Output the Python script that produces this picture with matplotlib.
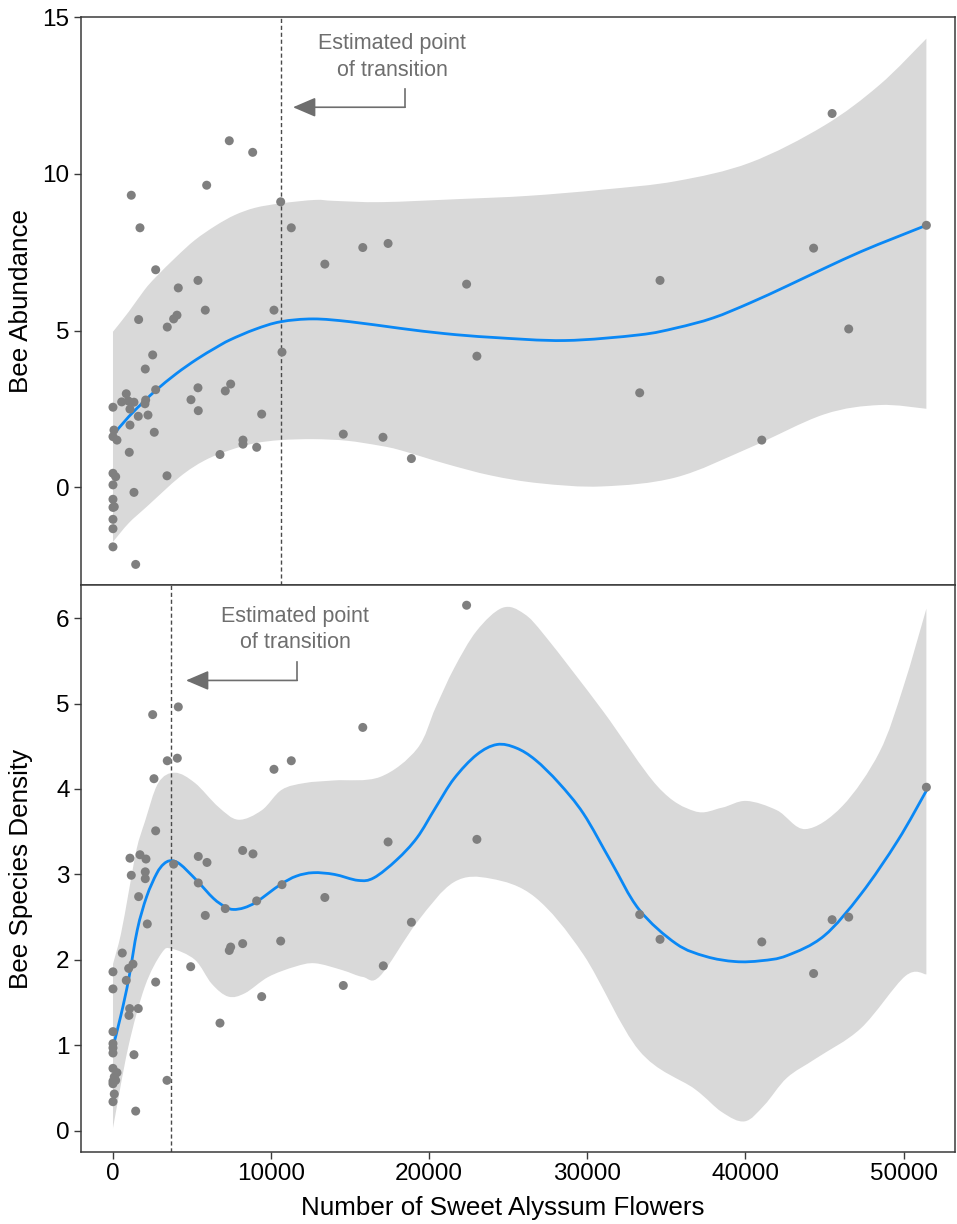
import matplotlib
matplotlib.use("Agg")
import matplotlib.pyplot as plt
from matplotlib.path import Path
from matplotlib.patches import PathPatch

plt.rcParams['font.family'] = ['Liberation Sans', 'DejaVu Sans']

# ---------------- data: Bee Abundance (top) ----------------
abund_x = [7356, 8836, 5926, 1158, 10607, 1708, 11278, 2700, 5376, 4131, 5838, 10183,
           1623, 4048, 3837, 3434, 2511, 10690, 2043, 2700, 5376, 7444, 7103, 4934,
           5395, 9405, 841, 550, 968, 1328, 2068, 2024, 0, 1075, 1600, 2214, 1075, 63,
           0, 253, 2612, 1031, 8223, 8223, 9089, 6768, 0, 171, 0, 3416, 1328, 0, 82,
           0, 0, 0, 0, 1436,
           14567, 17078, 45484, 17400, 22366, 34600, 44313, 51447, 23017, 33314,
           46533, 18874, 41036, 13400, 15800]
abund_y = [11.06, 10.69, 9.64, 9.32, 9.11, 8.28, 8.28, 6.94, 6.60, 6.36, 5.65, 5.65,
           5.35, 5.49, 5.37, 5.11, 4.22, 4.31, 3.77, 3.11, 3.17, 3.29, 3.07, 2.79,
           2.44, 2.33, 2.98, 2.72, 2.75, 2.71, 2.78, 2.66, 2.55, 2.49, 2.26, 2.30, 1.98, 1.82,
           1.61, 1.50, 1.75, 1.11, 1.50, 1.37, 1.27, 1.04, 0.44, 0.33, 0.07, 0.36, -0.17, -0.39, -0.63,
           -0.65, -1.03, -1.33, -1.91, -2.47,
           1.69, 1.59, 11.93, 7.78, 6.48, 6.60, 7.63, 8.36, 4.18, 3.01,
           5.05, 0.91, 1.50, 7.12, 7.65]

abund_fit_x = [0, 1000, 2000, 2739, 4000, 5294, 6500, 7400, 9000, 10607, 12670, 15000,
               18153, 21000, 24000, 28590, 33270, 35610, 37950, 40290, 42630, 44970,
               47310, 49400, 51447]
abund_fit_y = [1.66, 2.25, 2.75, 3.10, 3.62, 4.08, 4.45, 4.70, 5.04, 5.28, 5.37, 5.28,
               5.07, 4.90, 4.78, 4.68, 4.86, 5.08, 5.40, 5.88, 6.42, 6.98, 7.52, 7.95, 8.36]
abund_band_x = [0, 1000, 2000, 2700, 4000, 5186, 6500, 7716, 9000, 10607, 12777, 14000,
                17000, 22000, 26250, 31000, 35610, 40290, 44970, 48475, 51447]
abund_upper = [4.96, 5.60, 6.30, 6.70, 7.35, 7.89, 8.35, 8.69, 8.92, 9.06, 9.17, 9.14,
               9.10, 9.20, 9.30, 9.50, 9.77, 10.36, 11.54, 12.84, 14.32]
abund_lower_x = [0, 1000, 2130, 4238, 5800, 7400, 9000, 10607, 12700, 14790, 16888, 18153,
                 21000, 23908, 27000, 30930, 35610, 40290, 44970, 48475, 51447]
abund_lower = [-1.75, -1.15, -0.63, 0.33, 0.85, 1.18, 1.40, 1.50, 1.53, 1.48, 1.32, 1.18,
               0.75, 0.37, 0.12, 0.02, 0.31, 1.26, 2.32, 2.62, 2.50]

# ---------------- data: Bee Species Density (bottom) ----------------
dens_x = [4131, 2511, 4069, 3434, 2593, 10183, 11278, 2700, 1075, 1708, 2087, 1158,
          2043, 2043, 3837, 5395, 5946, 8203, 8855, 5395, 10690, 1623, 2170, 9089,
          7103, 5838, 10607, 8203, 7444, 7356, 588, 0, 1265, 993, 841, 4915, 2700, 0,
          9405, 1056, 1600, 1012, 6768, 0, 0, 0, 0, 1328, 0, 253, 82, 0, 171, 0, 3416,
          82, 0, 1436,
          22366, 17400, 23017, 18874, 17097, 33314, 34600, 41036, 45484, 46533, 44313,
          51447, 14567, 15800, 13400]
dens_y = [4.96, 4.87, 4.36, 4.33, 4.12, 4.23, 4.33, 3.51, 3.19, 3.23, 3.18, 2.99,
          3.03, 2.95, 3.12, 3.21, 3.14, 3.28, 3.24, 2.90, 2.88, 2.74, 2.42, 2.69,
          2.60, 2.52, 2.22, 2.19, 2.15, 2.11, 2.08, 1.86, 1.95, 1.90, 1.76, 1.92, 1.74, 1.66,
          1.57, 1.43, 1.43, 1.35, 1.26, 1.16, 1.02, 0.97, 0.91, 0.89, 0.73, 0.68, 0.63, 0.58, 0.59, 0.55, 0.59,
          0.43, 0.34, 0.23,
          6.15, 3.38, 3.41, 2.44, 1.93, 2.53, 2.24, 2.21, 2.47, 2.50, 1.84,
          4.02, 1.70, 4.72, 2.73]

dens_fit_x = [0, 500, 1000, 1537, 2130, 2764, 3200, 3650, 4238, 5294, 6350, 7100, 7615,
              8300, 9089, 10582, 11600, 12670, 14000, 15500, 16500, 17944, 19233, 20400,
              21568, 23000, 24282, 25500, 26715, 28200, 29760, 31500, 33270, 35610, 37500,
              39356, 41000, 42630, 44970, 47310, 49650, 51447]
dens_fit_y = [0.98, 1.35, 1.78, 2.35, 2.74, 3.01, 3.12, 3.16, 3.12, 2.93, 2.72, 2.62, 2.59,
              2.61, 2.68, 2.88, 2.98, 3.02, 3.00, 2.93, 2.96, 3.17, 3.43, 3.78,
              4.12, 4.40, 4.52, 4.48, 4.34, 4.07, 3.71, 3.15, 2.59, 2.19, 2.04,
              1.98, 1.99, 2.05, 2.28, 2.77, 3.40, 3.98]
dens_upper_x = [0, 500, 1000, 1500, 2024, 2865, 3921, 5186, 6666, 7926, 9405, 10670, 12144,
                14000, 16888, 19233, 20400, 21568, 23000, 24636, 26000, 27418, 30958, 34444,
                36784, 38500, 40056, 42000, 43800, 46134, 48475, 50000, 51447]
dens_upper = [1.95, 2.30, 2.80, 3.30, 3.62, 4.07, 4.19, 4.07, 3.79, 3.64, 3.75, 3.99, 4.07,
              4.10, 4.14, 4.47, 4.95, 5.41, 5.85, 6.12, 6.05, 5.77, 4.92, 4.03,
              3.74, 3.78, 3.86, 3.75, 3.53, 3.80, 4.43, 5.20, 6.11]
dens_lower_x = [0, 969, 2024, 3080, 3713, 5186, 6245, 7293, 8350, 9823, 11511, 12777,
                14500, 15800, 16888, 19233, 21568, 23908, 26715, 29760, 33270, 36784,
                38500, 39957, 41200, 42630, 44497, 47310, 50112, 51447]
dens_lower = [0.03, 0.98, 1.69, 2.08, 2.13, 2.00, 1.72, 1.57, 1.61, 1.80, 1.92, 1.96,
              1.88, 1.80, 1.81, 2.44, 2.91, 2.95, 2.73, 2.06, 0.94, 0.49,
              0.22, 0.11, 0.30, 0.62, 0.85, 1.20, 1.81, 1.83]

x_ticks = [0, 10000, 20000, 30000, 40000, 50000]
abund_yticks = [0, 5, 10, 15]
dens_yticks = [0, 1, 2, 3, 4, 5, 6]
transition_abund = 10600
transition_dens = 3700

# ---------------- styling ----------------
PT_COLOR = '#7f7f7f'
LINE_COLOR = '#0a88f5'
BAND_COLOR = '#d9d9d9'
SPINE_COLOR = '#3a3a3a'
ANN_COLOR = '#6e6e6e'
TICK_FS = 17.5
LABEL_FS = 18.7
ANN_FS = 15.5


def smooth_segments(xs, ys):
    """Bezier (Catmull-Rom) vertices/codes passing through the given points."""
    n = len(xs)
    verts = [(xs[0], ys[0])]
    codes = []
    for i in range(n - 1):
        x0, y0 = (xs[i - 1], ys[i - 1]) if i > 0 else (xs[i], ys[i])
        x1, y1 = xs[i], ys[i]
        x2, y2 = xs[i + 1], ys[i + 1]
        x3, y3 = (xs[i + 2], ys[i + 2]) if i + 2 < n else (x2, y2)
        c1 = (x1 + (x2 - x0) / 6.0, y1 + (y2 - y0) / 6.0)
        c2 = (x2 - (x3 - x1) / 6.0, y2 - (y3 - y1) / 6.0)
        verts += [c1, c2, (x2, y2)]
        codes += [Path.CURVE4] * 3
    return verts, codes


def smooth_line(ax, xs, ys, **kw):
    v, c = smooth_segments(xs, ys)
    path = Path(v, [Path.MOVETO] + c)
    ax.add_patch(PathPatch(path, fill=False, capstyle='round', **kw))


def smooth_band(ax, ux, uy, lx, ly, **kw):
    vu, cu = smooth_segments(ux, uy)
    vl, cl = smooth_segments(list(lx)[::-1], list(ly)[::-1])
    verts = vu + vl + [vu[0]]
    codes = [Path.MOVETO] + cu + [Path.LINETO] + cl + [Path.CLOSEPOLY]
    ax.add_patch(PathPatch(Path(verts, codes), **kw))


fig = plt.figure(figsize=(9.57, 12.24), dpi=100)
ax1 = fig.add_axes([0.0843, 0.522, 0.914, 0.4638])
ax2 = fig.add_axes([0.0843, 0.0588, 0.914, 0.4632])


def draw_panel(ax, px, py, fx, fy, ux, uy, lx, ly):
    smooth_band(ax, ux, uy, lx, ly, facecolor=BAND_COLOR, edgecolor='none', lw=0, zorder=1)
    smooth_line(ax, fx, fy, edgecolor=LINE_COLOR, lw=2.0, zorder=3)
    ax.scatter(px, py, s=42, color=PT_COLOR, edgecolors='none', zorder=4)
    for s in ax.spines.values():
        s.set_color(SPINE_COLOR)
        s.set_linewidth(1.1)
    ax.set_xlim(-2043, 53280)
    ax.tick_params(axis='both', labelsize=TICK_FS, length=5, width=1,
                   color=SPINE_COLOR, direction='out', pad=3)


draw_panel(ax1, abund_x, abund_y, abund_fit_x, abund_fit_y,
           abund_band_x, abund_upper, abund_lower_x, abund_lower)
draw_panel(ax2, dens_x, dens_y, dens_fit_x, dens_fit_y,
           dens_upper_x, dens_upper, dens_lower_x, dens_lower)

ax1.set_ylim(-3.13, 15.0)
ax1.set_yticks(abund_yticks)
ax1.set_xticks([])
ax1.set_ylabel('Bee Abundance', fontsize=LABEL_FS)
ax1.yaxis.set_label_coords(-0.054, 0.5)

ax2.set_ylim(-0.249, 6.386)
ax2.set_yticks(dens_yticks)
ax2.set_xticks(x_ticks)
ax2.set_ylabel('Bee Species Density', fontsize=LABEL_FS)
ax2.yaxis.set_label_coords(-0.054, 0.5)
ax2.set_xlabel('Number of Sweet Alyssum Flowers', fontsize=LABEL_FS)
ax2.xaxis.set_label_coords(0.483, -0.077)

# transition lines
for ax, xv in ((ax1, transition_abund), (ax2, transition_dens)):
    ax.axvline(xv, color='#4a4a4a', lw=1.0, ls=(0, (3, 2)), zorder=2)

# annotations (top)
ax1.text(17647, 13.74, 'Estimated point\nof transition', fontsize=ANN_FS,
         color=ANN_COLOR, ha='center', va='center', linespacing=1.35, zorder=5)
ax1.plot([18469, 18469], [12.72, 12.13], color=ANN_COLOR, lw=1.2, zorder=5)
ax1.annotate('', xy=(11385, 12.13), xytext=(18469, 12.13),
             arrowprops=dict(arrowstyle='-|>,head_length=0.7,head_width=0.3',
                             color=ANN_COLOR, lw=1.2, shrinkA=0, shrinkB=0,
                             mutation_scale=20), zorder=5)

# annotations (bottom)
ax2.text(11512, 5.87, 'Estimated point\nof transition', fontsize=ANN_FS,
         color=ANN_COLOR, ha='center', va='center', linespacing=1.3, zorder=5)
ax2.plot([11657, 11657], [5.49, 5.27], color=ANN_COLOR, lw=1.2, zorder=5)
ax2.annotate('', xy=(4617, 5.27), xytext=(11657, 5.27),
             arrowprops=dict(arrowstyle='-|>,head_length=0.7,head_width=0.3',
                             color=ANN_COLOR, lw=1.2, shrinkA=0, shrinkB=0,
                             mutation_scale=20), zorder=5)

fig.savefig('out.png', dpi=100)
